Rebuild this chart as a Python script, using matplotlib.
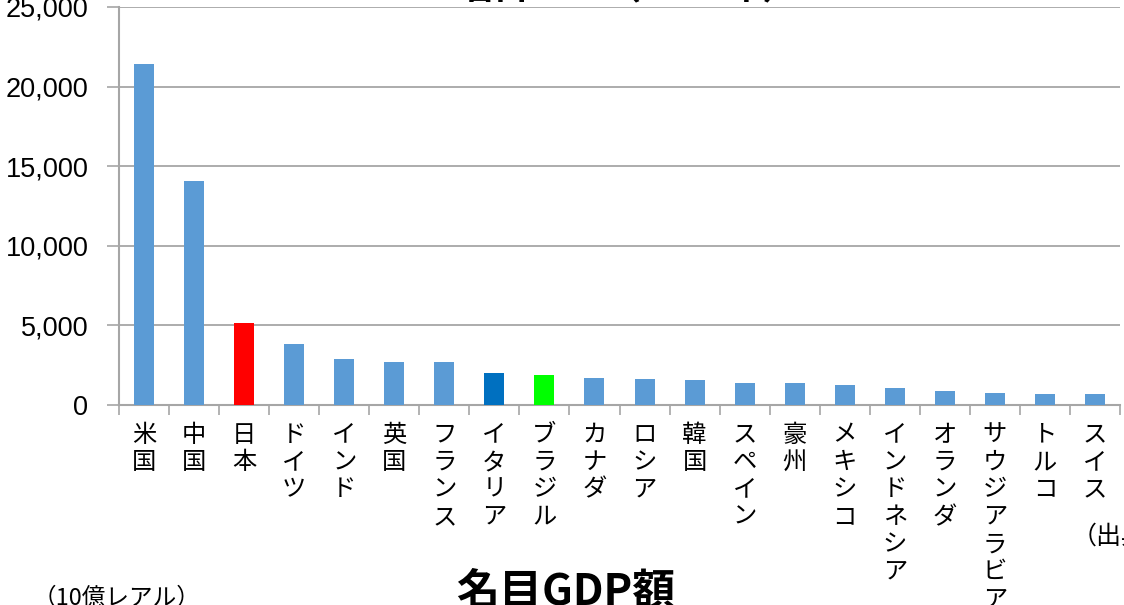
import matplotlib.pyplot as plt
import numpy as np
from matplotlib.ticker import FuncFormatter, FixedLocator

plt.rcParams['font.family'] = ['Liberation Sans', 'Noto Sans CJK JP', 'DejaVu Sans']

# 名目GDP（2019年）, 10億レアル
countries = ['米国', '中国', '日本', 'ドイツ', 'インド', '英国', 'フランス', 'イタリア',
             'ブラジル', 'カナダ', 'ロシア', '韓国', 'スペイン', '豪州', 'メキシコ',
             'インドネシア', 'オランダ', 'サウジアラビア', 'トルコ', 'スイス']
gdp = [21400, 14100, 5125, 3855, 2915, 2730, 2710, 1980,
       1875, 1690, 1605, 1585, 1395, 1355, 1270,
       1085, 855, 730, 690, 665]
highlight = {'日本': '#FF0000', 'イタリア': '#0070C0', 'ブラジル': '#00FF00'}
base_color = '#5B9BD5'
yticks = [0, 5000, 10000, 15000, 20000, 25000]

W, H = 1124, 605
jp = ['Noto Sans CJK JP', 'DejaVu Sans']
fig = plt.figure(figsize=(W / 100, H / 100), dpi=100)
ax = fig.add_axes([119 / W, 1 - 405 / H, (1120 - 119) / W, (405 - 7) / H])

x = np.arange(len(countries))
colors = [highlight.get(c, base_color) for c in countries]
ax.bar(x, gdp, width=0.4, color=colors, zorder=3)

grid_c = '#A6A6A6'
ax.set_xlim(-0.5, len(countries) - 0.5)
ax.set_ylim(0, 25000)
ax.set_yticks(yticks)
ax.yaxis.set_major_formatter(FuncFormatter(lambda v, p: f'{int(v):,}'))
ax.tick_params(axis='y', labelsize=19.5, length=9, width=1.2, color=grid_c, pad=13)
ax.grid(axis='y', color=grid_c, linewidth=1.3, zorder=0)

ax.xaxis.set_major_locator(FixedLocator(np.arange(len(countries) + 1) - 0.5))
ax.tick_params(axis='x', length=7, width=1.2, color=grid_c, labelbottom=False)

for s in ['top', 'right']:
    ax.spines[s].set_visible(False)
for s in ['left', 'bottom']:
    ax.spines[s].set_color(grid_c)
    ax.spines[s].set_linewidth(1.5)

# vertical (one character per line) category labels
for i, c in enumerate(countries):
    ax.annotate('\n'.join(c), xy=(i, 0), xycoords=('data', 'axes fraction'),
                xytext=(0, -12), textcoords='offset points',
                ha='center', va='top', fontsize=17.5, linespacing=1.07, family=jp)

fig.text(628 / W, 1 - 6 / H, '名目GDP（2019年）', ha='center', va='bottom',
         fontsize=26, fontweight='bold', family=jp)
fig.text(566 / W, 1 - 570 / H, '名目GDP額', ha='center', va='top',
         fontsize=31, fontweight='bold', family=jp)
fig.text(33 / W, 1 - 587 / H, '（10億レアル）', ha='left', va='top',
         fontsize=17, family=jp)
fig.text(1072 / W, 1 - 524 / H, '（出典：IMF）', ha='left', va='top',
         fontsize=18, family=jp)

fig.savefig('out.png', dpi=100)
